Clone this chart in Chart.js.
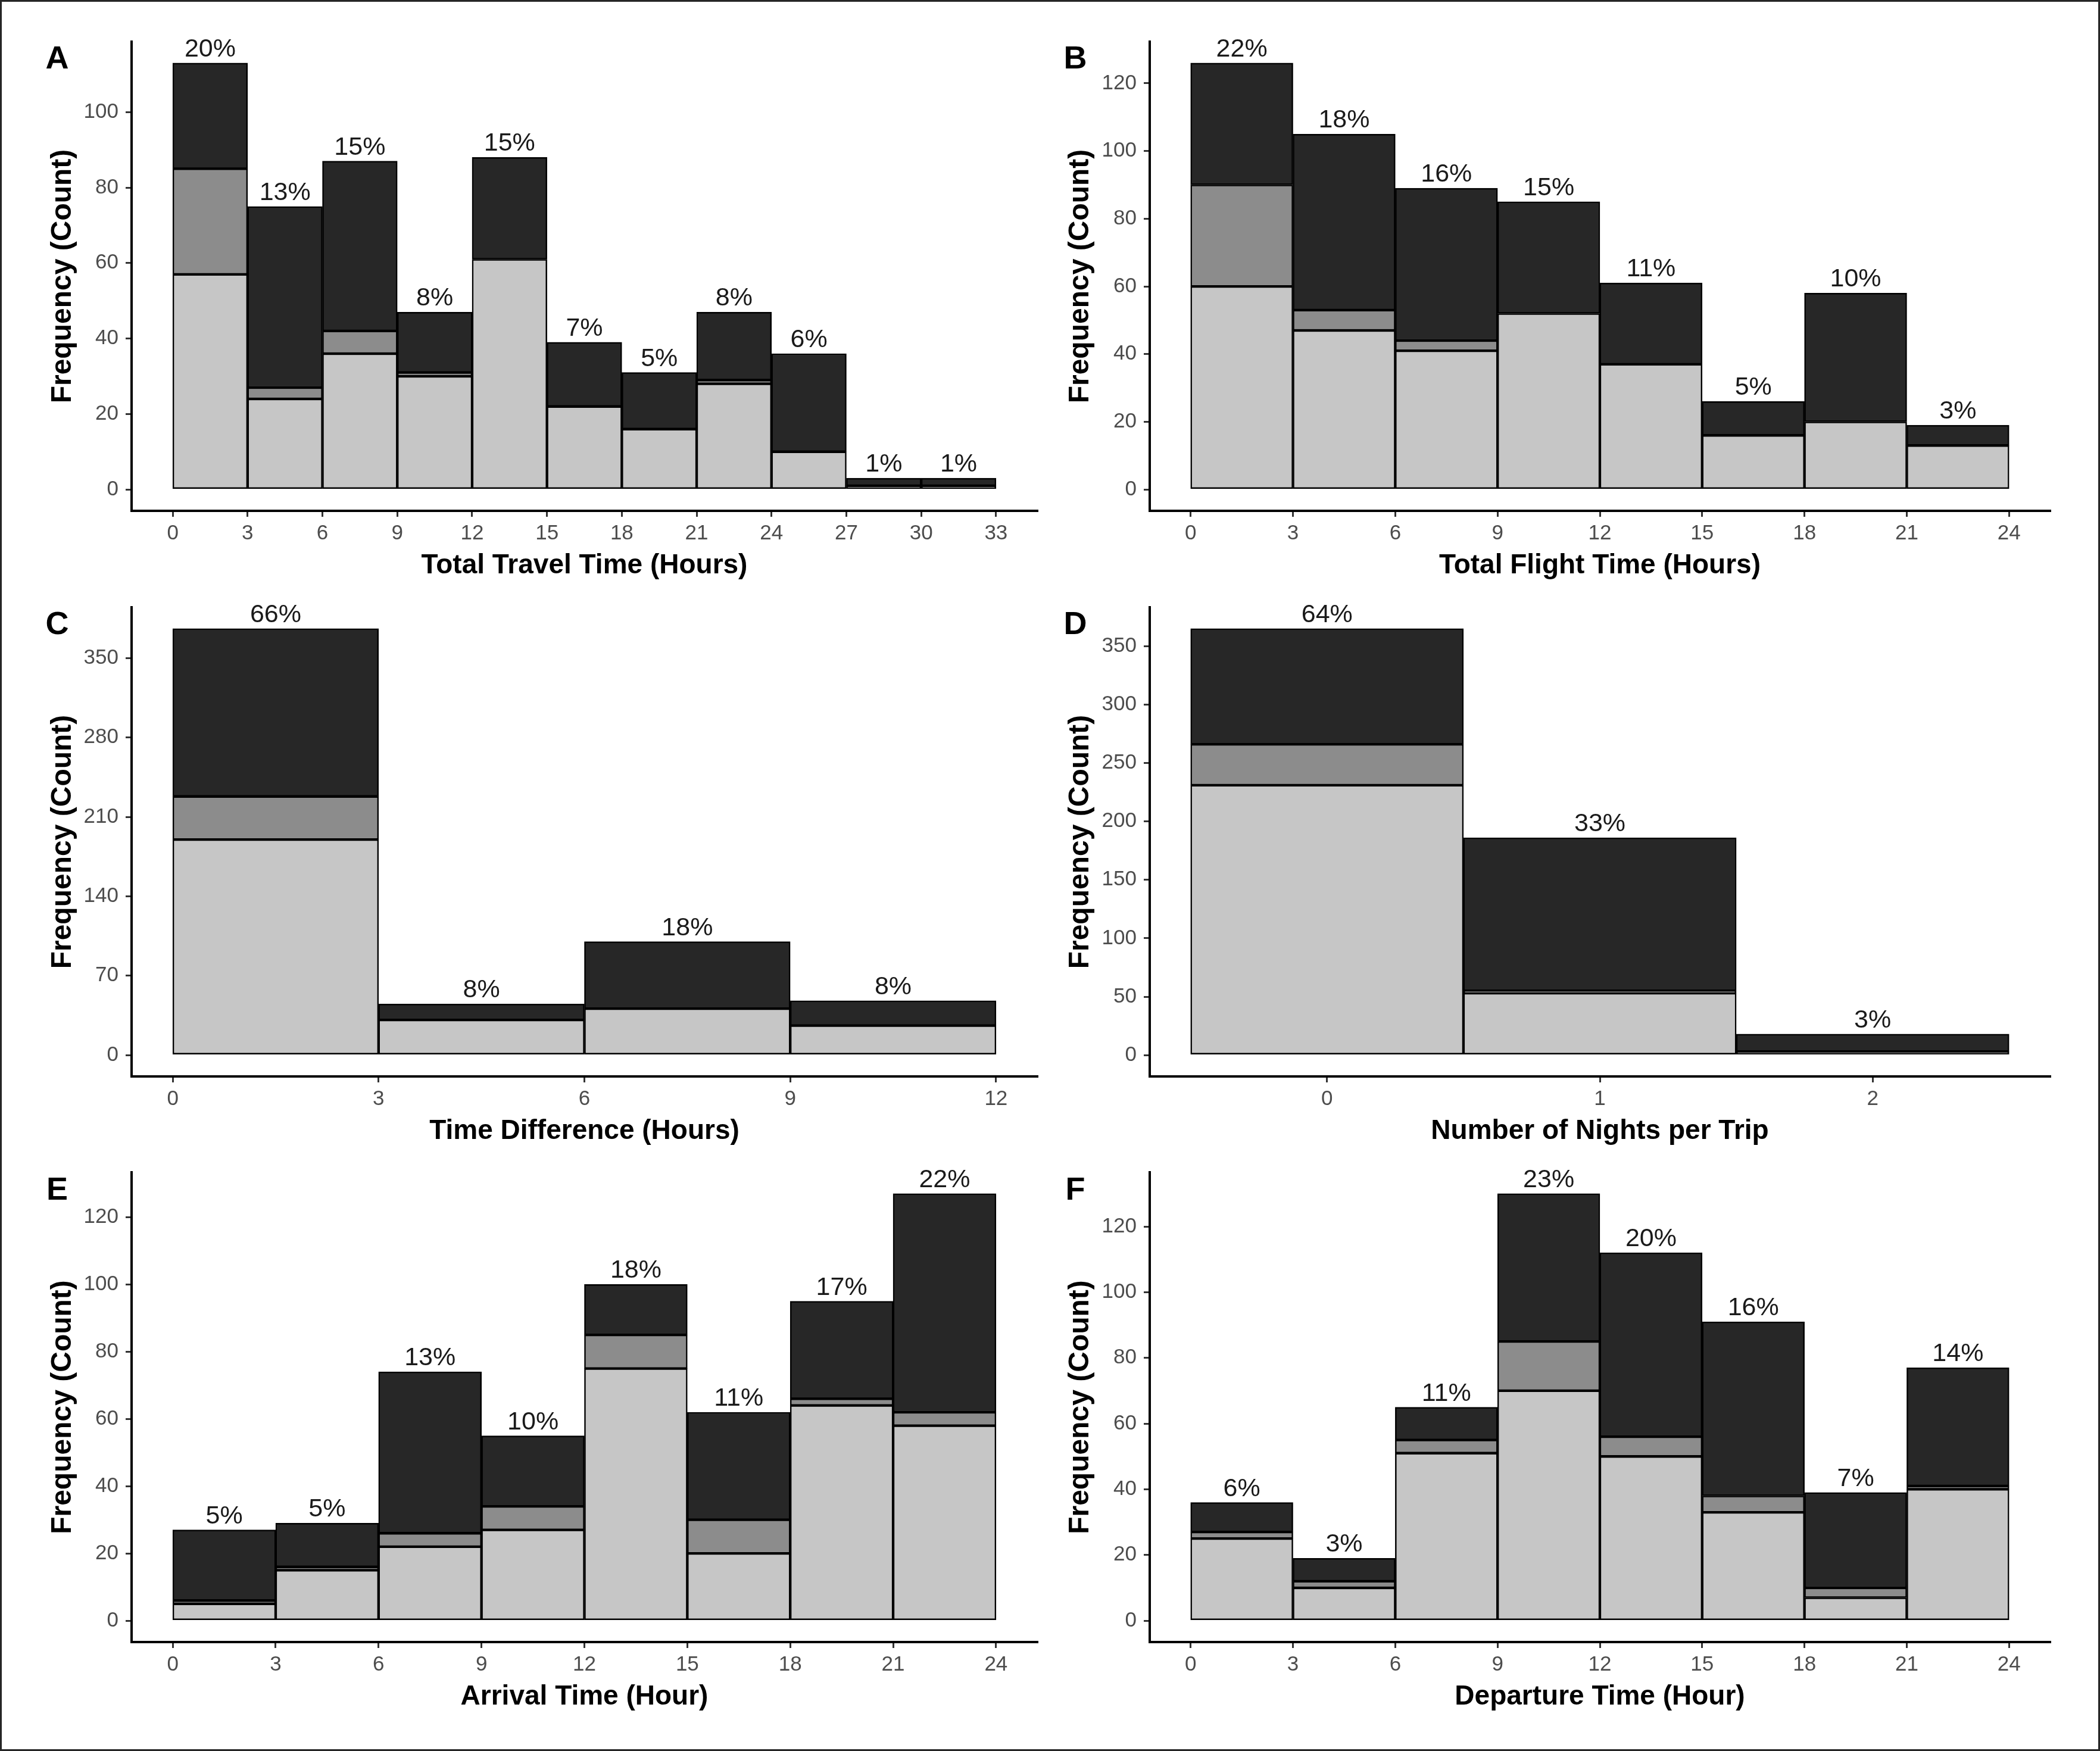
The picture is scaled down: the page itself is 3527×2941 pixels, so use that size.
<!DOCTYPE html>
<html>
<head>
<meta charset="utf-8">
<script src="https://cdn.jsdelivr.net/npm/chart.js@4.4.0/dist/chart.umd.min.js"></script>
<style>
  body { margin: 0; background: #fff; }
  #page { position: relative; width: 3527px; height: 2941px; border: 3px solid #262626; box-sizing: border-box; background: #fff; overflow: hidden; }
  #page canvas { position: absolute; }
</style>
</head>
<body>
<div id="page"></div>
<script>
// bin centres (hours) and stacked counts, bottom = light, middle = mid grey, top = dark
const travelX = [1.5, 4.5, 7.5, 10.5, 13.5, 16.5, 19.5, 22.5, 25.5, 28.5, 31.5];
const travelLight = [57, 24, 36, 30, 61, 22, 16, 28, 10, 1, 1];
const travelMid = [28, 3, 6, 1, 0, 0, 0, 1, 0, 0, 0];
const travelDark = [28, 48, 45, 16, 27, 17, 15, 18, 26, 2, 2];
const travelPct = ['20%', '13%', '15%', '8%', '15%', '7%', '5%', '8%', '6%', '1%', '1%'];
const travelTicksX = [0, 3, 6, 9, 12, 15, 18, 21, 24, 27, 30, 33];
const travelTicksY = [0, 20, 40, 60, 80, 100];

const flightX = [1.5, 4.5, 7.5, 10.5, 13.5, 16.5, 19.5, 22.5];
const flightLight = [60, 47, 41, 52, 37, 16, 20, 13];
const flightMid = [30, 6, 3, 0, 0, 0, 0, 0];
const flightDark = [36, 52, 45, 33, 24, 10, 38, 6];
const flightPct = ['22%', '18%', '16%', '15%', '11%', '5%', '10%', '3%'];
const hourTicksX = [0, 3, 6, 9, 12, 15, 18, 21, 24];
const flightTicksY = [0, 20, 40, 60, 80, 100, 120];

const diffX = [1.5, 4.5, 7.5, 10.5];
const diffLight = [190, 31, 41, 26];
const diffMid = [38, 0, 0, 0];
const diffDark = [148, 14, 59, 22];
const diffPct = ['66%', '8%', '18%', '8%'];
const diffTicksX = [0, 3, 6, 9, 12];
const diffTicksY = [0, 70, 140, 210, 280, 350];

const nightsX = [0, 1, 2];
const nightsLight = [231, 53, 3];
const nightsMid = [35, 2, 0];
const nightsDark = [99, 131, 15];
const nightsPct = ['64%', '33%', '3%'];
const nightsTicksX = [0, 1, 2];
const nightsTicksY = [0, 50, 100, 150, 200, 250, 300, 350];

const arrivalX = [1.5, 4.5, 7.5, 10.5, 13.5, 16.5, 19.5, 22.5];
const arrivalLight = [5, 15, 22, 27, 75, 20, 64, 58];
const arrivalMid = [1, 1, 4, 7, 10, 10, 2, 4];
const arrivalDark = [21, 13, 48, 21, 15, 32, 29, 65];
const arrivalPct = ['5%', '5%', '13%', '10%', '18%', '11%', '17%', '22%'];

const departX = [1.5, 4.5, 7.5, 10.5, 13.5, 16.5, 19.5, 22.5];
const departLight = [25, 10, 51, 70, 50, 33, 7, 40];
const departMid = [2, 2, 4, 15, 6, 5, 3, 1];
const departDark = [9, 7, 10, 45, 56, 53, 29, 36];
const departPct = ['6%', '3%', '11%', '23%', '20%', '16%', '7%', '14%'];
const timeTicksY = [0, 20, 40, 60, 80, 100, 120];

const LIGHT = '#c6c6c6';
const MID = '#8c8c8c';
const DARK = '#272727';
const FONT = '"Liberation Sans", Arial, sans-serif';
const CANVAS_H = 1000;

const page = document.getElementById('page');

// labels above the bars + panel letter
const annotate = {
  id: 'annotate',
  afterDatasetsDraw(chart, args, opts) {
    const ctx = chart.ctx;
    const {x, y} = chart.scales;
    ctx.save();
    ctx.fillStyle = '#1a1a1a';
    ctx.font = '43px ' + FONT;
    ctx.textAlign = 'center';
    ctx.textBaseline = 'alphabetic';
    opts.xs.forEach((xv, i) => {
      ctx.fillText(opts.pct[i], x.getPixelForValue(xv), y.getPixelForValue(opts.totals[i]) - 11);
    });
    ctx.fillStyle = '#000';
    ctx.font = 'bold 54px ' + FONT;
    ctx.textBaseline = 'middle';
    ctx.fillText(opts.letter, opts.letterX, opts.letterY);
    ctx.restore();
  }
};

function makePanel(p) {
  const canvas = document.createElement('canvas');
  canvas.width = p.w;
  canvas.height = CANVAS_H;
  canvas.style.left = p.x + 'px';
  canvas.style.top = p.y + 'px';
  page.appendChild(canvas);

  const totals = p.light.map((v, i) => v + p.mid[i] + p.dark[i]);
  const hi = Math.max(...totals);
  const seg = (vals, color) => ({
    data: p.xs.map((xv, i) => ({x: xv, y: vals[i]})),
    backgroundColor: color
  });

  new Chart(canvas, {
    type: 'bar',
    data: {
      datasets: [seg(p.light, LIGHT), seg(p.mid, MID), seg(p.dark, DARK)]
    },
    options: {
      responsive: false,
      animation: false,
      devicePixelRatio: 1,
      events: [],
      layout: {padding: {left: 0, top: p.top, right: p.w - p.right, bottom: 0}},
      datasets: {
        bar: {barPercentage: 1, categoryPercentage: 1, borderWidth: 2.5, borderColor: '#000', borderSkipped: false}
      },
      plugins: {
        legend: {display: false},
        tooltip: {enabled: false},
        annotate: {xs: p.xs, pct: p.pct, totals: totals, letter: p.letter, letterX: p.letterX, letterY: 97}
      },
      scales: {
        x: {
          type: 'linear',
          stacked: true,
          offset: false,
          min: p.xmin,
          max: p.xmax,
          afterFit: s => { s.height = CANVAS_H - 855; },
          afterBuildTicks: s => { s.ticks = p.ticksX.map(v => ({value: v})); },
          ticks: {autoSkip: false, maxRotation: 0, padding: 7, color: '#4d4d4d', font: {family: FONT, size: 35}, callback: v => String(v)},
          grid: {display: true, offset: false, drawOnChartArea: false, drawTicks: true, tickLength: 10, color: '#333', lineWidth: 3},
          border: {display: true, color: '#000', width: 4},
          title: {display: true, text: p.xTitle, color: '#000', font: {family: FONT, size: 46, weight: 'bold'}, padding: {top: 0, bottom: 25}}
        },
        y: {
          stacked: true,
          min: -0.05 * hi,
          max: 1.05 * hi,
          afterFit: s => { s.width = p.left; },
          afterBuildTicks: s => { s.ticks = p.ticksY.map(v => ({value: v})); },
          ticks: {autoSkip: false, padding: 12, color: '#4d4d4d', font: {family: FONT, size: 35}, callback: v => String(v)},
          grid: {display: true, drawOnChartArea: false, drawTicks: true, tickLength: 10, color: '#333', lineWidth: 3},
          border: {display: true, color: '#000', width: 4},
          title: {display: true, text: 'Frequency (Count)', color: '#000', font: {family: FONT, size: 48, weight: 'bold'}, padding: {top: p.yTitleX - 28.8, bottom: 0}}
        }
      }
    },
    plugins: [annotate]
  });
}

const col0 = {x: 0, w: 1763, left: 218, right: 1739, yTitleX: 103, letterX: 93};
const col1 = {x: 1763, w: 1764, left: 165, right: 1677, yTitleX: 49, letterX: 40};

makePanel({...col0, y: 0, top: 67, letter: 'A', xs: travelX, light: travelLight, mid: travelMid, dark: travelDark, pct: travelPct,
  ticksX: travelTicksX, ticksY: travelTicksY, xmin: -1.65, xmax: 34.65, xTitle: 'Total Travel Time (Hours)'});
makePanel({...col1, y: 0, top: 67, letter: 'B', xs: flightX, light: flightLight, mid: flightMid, dark: flightDark, pct: flightPct,
  ticksX: hourTicksX, ticksY: flightTicksY, xmin: -1.2, xmax: 25.2, xTitle: 'Total Flight Time (Hours)'});
makePanel({...col0, y: 950, top: 67, letter: 'C', xs: diffX, light: diffLight, mid: diffMid, dark: diffDark, pct: diffPct,
  ticksX: diffTicksX, ticksY: diffTicksY, xmin: -0.6, xmax: 12.6, xTitle: 'Time Difference (Hours)'});
makePanel({...col1, y: 950, top: 67, letter: 'D', xs: nightsX, light: nightsLight, mid: nightsMid, dark: nightsDark, pct: nightsPct,
  ticksX: nightsTicksX, ticksY: nightsTicksY, xmin: -0.65, xmax: 2.65, xTitle: 'Number of Nights per Trip'});
makePanel({...col0, y: 1900, top: 66, letter: 'E', xs: arrivalX, light: arrivalLight, mid: arrivalMid, dark: arrivalDark, pct: arrivalPct,
  ticksX: hourTicksX, ticksY: timeTicksY, xmin: -1.2, xmax: 25.2, xTitle: 'Arrival Time (Hour)'});
makePanel({...col1, y: 1900, top: 66, letter: 'F', xs: departX, light: departLight, mid: departMid, dark: departDark, pct: departPct,
  ticksX: hourTicksX, ticksY: timeTicksY, xmin: -1.2, xmax: 25.2, xTitle: 'Departure Time (Hour)'});
</script>
</body>
</html>
